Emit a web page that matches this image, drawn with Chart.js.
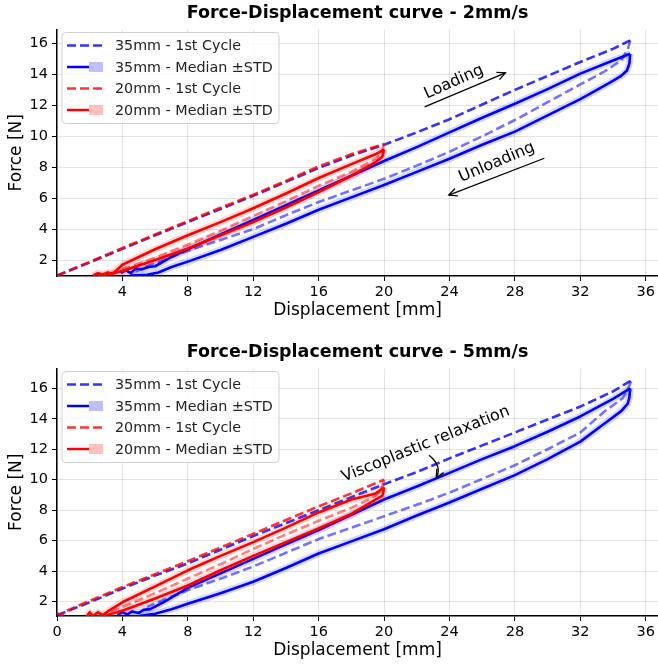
<!DOCTYPE html>
<html>
<head>
<meta charset="utf-8">
<script src="https://cdn.jsdelivr.net/npm/chart.js@4.4.1/dist/chart.umd.min.js"></script>
<style>
  html, body { margin: 0; padding: 0; background: #fff; }
  canvas { display: block; }
</style>
</head>
<body>
<canvas id="chart2" width="658" height="333"></canvas>
<canvas id="chart5" width="658" height="333"></canvas>
<script>
// [displacement mm, force N]

// --- 2 mm/s ---
const load35_2 = [[0,1.0],[2,1.85],[4,2.72],[6,3.6],[8,4.45],[10,5.3],[12,6.15],[14,7.05],[16,7.95],[18,8.75],[20,9.45],[22,10.25],[24,11.1],[26,12.05],[28,13.0],[30,13.9],[32,14.8],[34,15.65],[35.05,16.2]];
const unload35_2 = [[35.05,16.2],[34.9,15.6],[34.5,14.9],[33.5,14.2],[32,13.35],[30,12.2],[28,11.05],[26,10.0],[24,9.0],[22,8.1],[20,7.25],[18,6.5],[16,5.75],[14,4.9],[12,4.0],[10,3.3],[8,2.6],[6.5,2.0],[5.5,1.6],[4.8,1.25]];
const medLoad35_2 = [[3.9,1.15],[4.2,1.35],[4.5,1.15],[4.8,1.45],[5.2,1.4],[5.6,1.55],[6.0,1.6],[6.5,1.9],[7,2.2],[8,2.7],[10,3.65],[12,4.6],[14,5.55],[16,6.5],[18,7.45],[20,8.4],[22,9.3],[24,10.25],[26,11.2],[28,12.1],[30,13.05],[32,14.05],[34,14.9],[35.05,15.33]];
const medUnload35_2 = [[35.05,15.33],[35.0,14.7],[34.85,14.25],[34.5,13.9],[33.7,13.4],[32,12.4],[30,11.35],[28,10.3],[26,9.45],[24,8.55],[22,7.7],[20,6.85],[18,6.05],[16,5.25],[14,4.35],[12,3.5],[10,2.65],[8,1.9],[7,1.55],[6.2,1.2],[5.5,1.05],[4.5,1.0]];
const load20_2 = [[0,1.0],[2,1.88],[4,2.78],[6,3.65],[8,4.52],[10,5.38],[12,6.22],[14,7.12],[16,8.05],[18,8.85],[20,9.5]];
const unload20_2 = [[20,9.5],[19.85,8.9],[19.5,8.55],[18,7.7],[16,6.8],[14,5.8],[12,4.85],[10,3.9],[8,3.0],[6,2.15],[4,1.4],[3,1.05]];
const medLoad20_2 = [[2.2,1.0],[2.5,1.15],[2.8,1.05],[3.1,1.2],[3.4,1.1],[4,1.7],[5,2.2],[6,2.7],[8,3.6],[10,4.45],[12,5.35],[14,6.3],[16,7.3],[18,8.2],[19.5,8.85],[20,9.15]];
const medUnload20_2 = [[20,9.15],[19.9,8.7],[19.5,8.35],[18,7.45],[16,6.4],[14,5.4],[12,4.45],[10,3.6],[8,2.75],[6,2.0],[4,1.3],[3,1.05],[2.5,1.0]];

// --- 5 mm/s ---
const load35_5 = [[0,1.1],[2,1.95],[4,2.85],[6,3.7],[8,4.5],[10,5.4],[12,6.3],[14,7.15],[16,8.0],[18,8.85],[20,9.7],[22,10.5],[24,11.4],[26,12.25],[28,13.1],[30,13.95],[32,14.8],[34,15.8],[35.1,16.5]];
const unload35_5 = [[35.1,16.45],[34.9,15.9],[34.6,15.35],[33.5,14.5],[32,13.1],[30,12.0],[28,10.95],[26,10.05],[24,9.15],[22,8.35],[20,7.6],[18,6.85],[16,6.1],[14,5.2],[12,4.3],[10,3.5],[8,2.75],[6.5,2.1],[5.5,1.65]];
const medLoad35_5 = [[3.7,1.1],[4.0,1.3],[4.3,1.15],[4.6,1.35],[5.0,1.25],[5.3,1.45],[5.7,1.5],[6.5,1.95],[8,2.9],[10,3.85],[12,4.8],[14,5.75],[16,6.7],[18,7.7],[20,8.7],[22,9.55],[24,10.45],[26,11.35],[28,12.2],[30,13.15],[32,14.15],[34,15.3],[35.05,16.0]];
const medUnload35_5 = [[35.05,16.0],[35.0,15.4],[34.9,15.0],[34.5,14.5],[33.5,13.7],[32,12.5],[30,11.35],[28,10.3],[26,9.4],[24,8.5],[22,7.65],[20,6.75],[18,5.95],[16,5.15],[14,4.2],[12,3.3],[10,2.55],[8,1.85],[7,1.5],[6,1.2],[5,1.05],[4.2,1.0]];
const load20_5 = [[0,1.25],[0.25,1.05],[0.5,1.35],[2,2.05],[4,2.95],[6,3.8],[8,4.65],[10,5.55],[12,6.45],[14,7.35],[16,8.25],[18,9.1],[20,10.0]];
const unload20_5 = [[20,10.0],[19.8,9.3],[19.4,8.9],[18,8.15],[16,7.3],[14,6.4],[12,5.45],[10,4.45],[8,3.5],[6,2.55],[4,1.65],[3,1.2],[2.5,1.05]];
const medLoad20_5 = [[1.8,1.0],[2.0,1.3],[2.2,1.05],[2.5,1.3],[2.8,1.1],[3.1,1.35],[4,1.95],[6,3.0],[8,4.05],[10,5.0],[12,5.9],[14,6.85],[16,7.85],[18,8.7],[19.5,9.1],[20,9.5]];
const medUnload20_5 = [[20,9.5],[19.9,8.95],[19.5,8.7],[18,7.75],[16,6.8],[14,5.9],[12,5.0],[10,4.05],[8,3.05],[6,2.2],[4,1.4],[3,1.1],[2.5,1.0]];

// tick labels
const xTicksTop = [4, 8, 12, 16, 20, 24, 28, 32, 36];
const xTicksBottom = [0, 4, 8, 12, 16, 20, 24, 28, 32, 36];
const yTicks = [2, 4, 6, 8, 10, 12, 14, 16];
const legendLabels = ['35mm - 1st Cycle', '35mm - Median \u00B1STD', '20mm - 1st Cycle', '20mm - Median \u00B1STD'];

const FONT = "'DejaVu Sans', sans-serif";
const BLUE = '#0000ff', RED = '#ff0000';
const BLUE_D = 'rgba(0,0,255,0.8)', RED_D = 'rgba(255,0,0,0.8)';
const BLUE_L = 'rgba(0,0,255,0.55)', RED_L = 'rgba(255,0,0,0.5)';
const BLUE_BAND = 'rgba(0,0,255,0.16)', RED_BAND = 'rgba(255,0,0,0.16)';

function pts(arr) {
  return arr.map(p => ({ x: p[0], y: p[1] }));
}

function line(data, color, width, dashed, order) {
  return {
    data: pts(data),
    borderColor: color,
    borderWidth: width,
    borderDash: dashed ? [9, 4] : [],
    borderJoinStyle: 'round',
    pointRadius: 0,
    showLine: true,
    fill: false,
    tension: 0,
    order: order
  };
}

// legend drawn like matplotlib (line + shaded patch)
const legendPlugin = {
  id: 'mplLegend',
  afterDraw(chart) {
    const ctx = chart.ctx;
    const a = chart.chartArea;
    const x0 = a.left + 5, y0 = a.top + 3, w = 217, h = 91;
    ctx.save();
    ctx.beginPath();
    ctx.roundRect(x0, y0, w, h, 4);
    ctx.fillStyle = 'rgba(255,255,255,0.8)';
    ctx.fill();
    ctx.strokeStyle = '#d0d0d0';
    ctx.lineWidth = 1;
    ctx.stroke();
    const items = [
      { c: BLUE_D, dash: true },
      { c: BLUE, band: 'rgba(0,0,255,0.25)' },
      { c: RED_D, dash: true },
      { c: RED, band: 'rgba(255,0,0,0.25)' }
    ];
    items.forEach((it, i) => {
      const y = y0 + 13 + i * 21.5;
      ctx.strokeStyle = it.c;
      ctx.lineWidth = 2.5;
      ctx.setLineDash(it.dash ? [9, 4] : []);
      ctx.beginPath();
      ctx.moveTo(x0 + 5, y);
      ctx.lineTo(it.band ? x0 + 27 : x0 + 41, y);
      ctx.stroke();
      ctx.setLineDash([]);
      if (it.band) {
        ctx.fillStyle = it.band;
        ctx.fillRect(x0 + 27, y - 5, 14, 10);
      }
      ctx.fillStyle = '#222';
      ctx.font = '14.3px ' + FONT;
      ctx.textBaseline = 'middle';
      ctx.fillText(legendLabels[i], x0 + 53, y + 1);
    });
    ctx.restore();
  }
};

// text + arrow annotations in data coordinates
const notePlugin = {
  id: 'notes',
  afterDatasetsDraw(chart, args, opts) {
    const ctx = chart.ctx, sx = chart.scales.x, sy = chart.scales.y;
    ctx.save();
    ctx.fillStyle = '#000';
    ctx.strokeStyle = '#000';
    ctx.lineWidth = 1.3;
    ctx.font = '16px ' + FONT;
    ctx.textAlign = 'center';
    ctx.textBaseline = 'middle';
    (opts.texts || []).forEach(t => {
      ctx.save();
      ctx.translate(sx.getPixelForValue(t.x), sy.getPixelForValue(t.y));
      ctx.rotate(-t.rot * Math.PI / 180);
      ctx.fillText(t.text, 0, 0);
      ctx.restore();
    });
    (opts.arrows || []).forEach(ar => {
      const x1 = sx.getPixelForValue(ar.x1), y1 = sy.getPixelForValue(ar.y1);
      const x2 = sx.getPixelForValue(ar.x2), y2 = sy.getPixelForValue(ar.y2);
      let ang;
      ctx.beginPath();
      ctx.moveTo(x1, y1);
      if (ar.bend) {
        const cx = (x1 + x2) / 2 + ar.bend, cy = (y1 + y2) / 2;
        ctx.quadraticCurveTo(cx, cy, x2, y2);
        ang = Math.atan2(y2 - cy, x2 - cx);
      } else {
        ctx.lineTo(x2, y2);
        ang = Math.atan2(y2 - y1, x2 - x1);
      }
      ctx.stroke();
      const L = 9, W = 0.45;
      ctx.beginPath();
      ctx.moveTo(x2 - L * Math.cos(ang - W), y2 - L * Math.sin(ang - W));
      ctx.lineTo(x2, y2);
      ctx.lineTo(x2 - L * Math.cos(ang + W), y2 - L * Math.sin(ang + W));
      ctx.stroke();
    });
    ctx.restore();
  }
};

function makeChart(id, s, opt) {
  const datasets = [
    line(s.medLoad35, BLUE_BAND, 7, false, 10),
    line(s.medUnload35, BLUE_BAND, 7, false, 10),
    line(s.load35, BLUE_D, 2.6, true, 9),
    line(s.unload35, BLUE_L, 2.6, true, 9),
    line(s.medLoad35, BLUE, 2.6, false, 8),
    line(s.medUnload35, BLUE, 2.6, false, 8),
    line(s.medLoad20, RED_BAND, 7, false, 7),
    line(s.medUnload20, RED_BAND, 7, false, 7),
    line(s.load20, RED_D, 2.6, true, 6),
    line(s.unload20, RED_L, 2.6, true, 6),
    line(s.medLoad20, RED, 2.6, false, 5),
    line(s.medUnload20, RED, 2.6, false, 5)
  ];
  return new Chart(document.getElementById(id), {
    type: 'scatter',
    data: { datasets: datasets },
    plugins: [legendPlugin, notePlugin],
    options: {
      responsive: false,
      animation: false,
      layout: { padding: { left: 0, right: 0, top: 0, bottom: 0 } },
      plugins: {
        legend: { display: false },
        tooltip: { enabled: false },
        title: {
          display: true,
          fullSize: false,
          text: opt.title,
          color: '#000',
          font: { family: FONT, size: 17.5, weight: 'bold' },
          padding: opt.titlePad
        },
        notes: opt.notes
      },
      scales: {
        x: {
          type: 'linear',
          min: 0,
          max: 36.75,
          afterBuildTicks: sc => { sc.ticks = opt.xTicks.map(v => ({ value: v })); },
          afterFit: sc => { sc.height = opt.xHeight; },
          grid: { color: 'rgba(0,0,0,0.11)', lineWidth: 1, tickColor: '#000', tickLength: 5 },
          border: { color: '#000', width: 1.5 },
          ticks: { color: '#000', font: { family: FONT, size: 14.5 }, padding: 3, maxRotation: 0 },
          title: {
            display: true,
            text: 'Displacement [mm]',
            color: '#000',
            font: { family: FONT, size: 17 },
            padding: { top: 0, bottom: opt.xTitlePad }
          }
        },
        y: {
          type: 'linear',
          min: opt.yMin,
          max: opt.yMax,
          afterBuildTicks: sc => { sc.ticks = yTicks.map(v => ({ value: v })); },
          afterFit: sc => { sc.width = 57; },
          grid: { color: 'rgba(0,0,0,0.11)', lineWidth: 1, tickColor: '#000', tickLength: 5 },
          border: { color: '#000', width: 1.5 },
          ticks: { color: '#000', font: { family: FONT, size: 14.5 }, padding: 4 },
          title: {
            display: true,
            text: 'Force [N]',
            color: '#000',
            font: { family: FONT, size: 17 },
            padding: { top: 6, bottom: 0 }
          }
        }
      }
    }
  });
}

makeChart('chart2', {
  load35: load35_2, unload35: unload35_2, medLoad35: medLoad35_2, medUnload35: medUnload35_2,
  load20: load20_2, unload20: unload20_2, medLoad20: medLoad20_2, medUnload20: medUnload20_2
}, {
  title: 'Force-Displacement curve - 2mm/s',
  titlePad: { top: 3, bottom: 5.5 },
  xTicks: xTicksTop,
  xHeight: 57,
  xTitlePad: 12.5,
  yMin: 0.97,
  yMax: 16.9,
  notes: {
    texts: [
      { text: 'Loading', x: 24.27, y: 13.5, rot: 24 },
      { text: 'Unloading', x: 26.9, y: 8.31, rot: 23 }
    ],
    arrows: [
      { x1: 22.48, y1: 11.9, x2: 27.42, y2: 14.1 },
      { x1: 29.8, y1: 8.58, x2: 23.96, y2: 6.2 }
    ]
  }
});

makeChart('chart5', {
  load35: load35_5, unload35: unload35_5, medLoad35: medLoad35_5, medUnload35: medUnload35_5,
  load20: load20_5, unload20: unload20_5, medLoad20: medLoad20_5, medUnload20: medUnload20_5
}, {
  title: 'Force-Displacement curve - 5mm/s',
  titlePad: { top: 9, bottom: 5.5 },
  xTicks: xTicksBottom,
  xHeight: 50,
  xTitlePad: 5.5,
  yMin: 1.05,
  yMax: 17.3,
  notes: {
    texts: [
      { text: 'Viscoplastic relaxation', x: 22.55, y: 12.33, rot: 22 }
    ],
    arrows: [
      { x1: 22.75, y1: 11.6, x2: 23.19, y2: 10.13, bend: 10 }
    ]
  }
});
</script>
</body>
</html>
